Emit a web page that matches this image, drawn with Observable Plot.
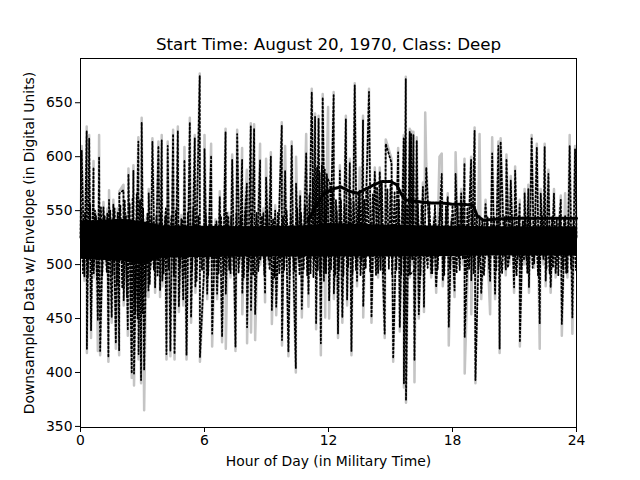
<!DOCTYPE html>
<html>
<head>
<meta charset="utf-8">
<script src="https://cdn.jsdelivr.net/npm/d3@7"></script>
<script src="https://cdn.jsdelivr.net/npm/@observablehq/plot@0.6"></script>
<style>
  body { margin: 0; background: #fff; }
  #chart svg { display: block; }
</style>
</head>
<body>
<div id="chart"></div>
<script>
// Hour of day for each sample of the downsampled trace
const hours = [
0.00,0.06,0.19,0.30,0.31,0.42,0.51,0.63,0.64,0.75,0.84,0.90,0.95,1.11,1.22,1.30,1.35,1.38,1.51,1.59,
1.71,1.80,1.87,1.88,2.08,2.09,2.20,2.29,2.32,2.48,2.56,2.59,2.80,2.81,2.87,2.93,2.96,3.08,3.20,3.29,
3.30,3.40,3.48,3.61,3.77,3.85,3.93,3.96,4.10,4.16,4.22,4.35,4.48,4.55,4.71,4.76,4.88,4.97,5.03,5.13,
5.29,5.35,5.53,5.56,5.77,5.78,5.97,6.00,6.13,6.32,6.37,6.53,6.61,6.74,6.85,7.02,7.03,7.15,7.26,7.34,
7.50,7.58,7.70,7.82,7.83,7.95,8.05,8.06,8.24,8.25,8.40,8.45,8.69,8.70,8.85,8.93,8.98,9.10,9.21,9.26,
9.42,9.47,9.74,9.75,9.90,10.06,10.22,10.30,10.42,10.43,10.55,10.63,10.71,10.92,11.03,11.19,11.30,11.35,11.40,11.52,
11.63,11.72,11.84,11.92,11.98,12.03,12.25,12.26,12.40,12.46,12.55,12.67,12.84,12.90,13.03,13.11,13.27,13.38,13.51,13.60,
13.67,13.68,13.96,14.08,14.24,14.40,14.48,14.72,14.77,15.05,15.13,15.37,15.45,15.64,15.65,15.74,15.75,15.93,15.94,16.00,
16.05,16.11,16.16,16.27,16.37,16.57,16.62,16.68,16.73,16.97,17.10,17.21,17.37,17.48,17.53,17.77,17.82,17.95,18.10,18.15,
18.30,18.42,18.50,18.58,18.59,18.90,18.91,19.07,19.11,19.31,19.39,19.60,19.82,19.92,20.06,20.22,20.28,20.33,20.45,20.58,
20.61,20.75,20.82,20.98,21.03,21.15,21.25,21.26,21.40,21.46,21.49,21.58,21.67,21.70,21.83,21.95,22.08,22.22,22.27,22.40,
22.46,22.51,22.64,22.75,22.91,22.99,23.24,23.29,23.45,23.56,23.67,23.80,23.93,24.00
];
// Envelope (black dotted) values, digital units
const envelope = [
525,606,489,624,422,617,439,590,492,545,448,600,420,553,505,548,414,560,451,556,
427,548,420,566,569,467,545,439,584,399,587,399,614,417,540,393,632,402,540,476,
566,500,614,479,610,476,615,485,545,417,610,420,621,417,624,461,542,467,597,416,
632,451,617,479,675,414,492,607,473,601,436,538,473,563,433,623,473,545,492,597,
424,621,505,597,473,545,575,442,628,458,626,454,597,504,548,473,581,505,600,458,
550,461,629,430,587,419,610,500,404,575,505,564,459,603,473,660,505,637,445,635,
427,655,492,584,560,467,657,473,550,436,587,451,635,467,594,420,666,485,569,505,
634,461,660,451,586,492,586,436,612,594,413,604,442,617,390,672,374,623,492,621,
505,620,411,615,454,572,461,545,590,492,540,479,545,584,485,563,442,540,476,584,
505,566,505,594,433,597,485,624,393,545,473,556,485,603,473,610,422,614,540,495,
598,505,578,479,587,505,556,428,540,504,566,505,570,479,617,501,609,445,566,505,
609,485,584,479,566,492,560,445,545,492,610,451,607,525
];
// Downsampled data (grey) values, digital units
const signal = [
525,610,485,628,418,620,432,596,488,548,420,620,416,558,500,552,410,569,446,560,
422,552,416,568,574,462,548,434,589,395,592,388,618,412,544,390,636,365,544,470,
570,496,617,474,614,470,620,480,548,412,614,415,625,412,628,456,546,462,609,412,
636,446,620,474,677,410,488,620,468,612,424,542,468,568,428,626,422,548,488,602,
420,625,500,608,454,548,588,427,631,437,630,430,612,500,552,465,598,500,604,445,
555,453,632,425,610,415,614,496,400,600,500,568,451,621,461,663,500,640,440,638,
416,658,451,588,646,450,660,468,554,432,592,446,638,462,598,416,668,480,590,500,
638,451,663,446,590,488,590,432,616,598,410,608,438,620,386,674,372,626,488,624,
500,623,391,618,450,576,456,641,594,488,544,474,600,603,480,566,425,544,470,604,
500,570,500,598,399,600,454,627,390,621,468,560,454,618,468,614,418,617,544,490,
602,500,582,474,591,500,560,424,544,500,570,500,574,474,620,497,612,422,570,500,
612,480,588,474,570,488,564,434,566,488,620,436,610,525
];
// Smaller oscillations of the envelope around the centre
const rippleHours = [
0.04,0.12,0.22,0.35,0.46,0.57,0.70,0.80,0.99,1.05,1.17,1.27,1.44,
1.55,1.65,1.76,1.93,2.02,2.14,2.25,2.38,2.44,2.52,2.65,2.72,2.76,2.88,3.00,3.03,3.13,3.24,3.35,3.44,
3.55,3.68,3.73,3.89,4.02,4.13,4.27,4.40,4.52,4.62,4.80,4.92,5.08,5.20,5.40,5.46,5.62,5.70,5.88,6.05,6.18,6.27,6.44,6.58,6.68,6.80,6.92,7.08,
7.20,7.30,7.42,7.55,7.65,7.76,7.90,8.00,8.12,8.30,8.35,8.52,8.60,8.78,8.90,9.03,9.15,9.32,9.38,9.55,9.62,9.80,9.85,9.97,10.12,10.18,10.35,10.48,10.60,10.67,10.80,10.87,10.97,
11.08,11.13,11.24,11.27,11.45,11.48,11.57,11.60,11.68,11.78,11.82,11.88,11.95,12.08,12.12,12.20,12.32,12.36,
12.50,12.60,12.72,12.78,12.95,13.07,13.16,13.22,13.33,13.45,13.55,13.73,13.80,13.90,14.02,14.15,14.30,14.35,14.52,14.58,14.68,14.85,14.92,15.00,15.08,15.20,15.28,15.40,15.52,15.58,15.70,15.80,15.88,
16.20,16.32,16.45,16.50,16.80,16.88,17.02,17.15,17.28,17.42,17.60,17.68,17.88,18.00,18.20,18.25,18.35,18.45,18.65,18.72,18.80,18.98,19.02,19.18,19.25,19.45,19.52,19.70,19.78,
20.00,20.12,20.18,20.40,20.52,20.68,20.90,21.10,21.20,21.33,21.52,21.62,21.76,21.88,22.02,22.14,22.33,22.55,22.58,22.70,22.82,22.86,23.05,23.12,23.20,23.35,23.40,23.50,23.62,23.74,23.86,23.97
];
const rippleValues = [
552,492,548,488,556,495,550,485,553,490,545,493,550,
490,552,482,555,478,560,470,556,460,562,455,565,450,560,455,552,470,548,482,545,
495,545,490,548,492,552,495,545,490,550,497,542,488,548,495,552,485,545,495,548,490,545,497,540,492,545,490,548,
495,545,490,548,492,545,488,550,495,546,490,548,494,545,490,550,495,542,488,548,492,545,495,550,490,546,494,552,490,548,495,555,490,
565,492,580,488,590,495,585,490,592,485,588,492,580,575,495,568,490,560,
495,560,490,555,498,562,492,558,495,565,490,560,497,570,493,565,490,572,495,575,492,570,496,575,490,568,495,560,490,558,495,556,490,
495,556,490,555,497,556,492,555,495,556,490,554,496,555,492,554,495,556,490,553,496,550,492,545,495,542,490,544,496,
545,495,543,492,544,497,542,490,545,496,543,492,544,497,542,490,545,496,543,492,544,497,542,490,545,496,543,492,544,497,542,495
];
// Dense central band of the envelope
const coreHours = [0,2,3,4,8,11,12,16,20,24];
const coreLow  = [505,503,500,506,507,507,507,507,508,508];
const coreHigh = [540,542,540,536,535,536,538,536,535,535];
// Slow upper envelope level
const trendHours  = [11.0,11.4,11.8,12.2,12.6,13.0,13.4,13.8,14.2,14.6,15.0,15.3,15.5,15.7,16.0,16.5,17.0,17.5,18.0,18.5,19.0,19.2,19.5,20.0,21.0,22.0,23.0,24.0];
const trendValues = [540,555,566,570,572,568,566,570,574,577,577,574,566,560,559,558,557,557,556,556,555,545,541,542,543,543,543,543];

const xTicks = [0, 6, 12, 18, 24];
const yTicks = [350, 400, 450, 500, 550, 600, 650];

const trace = hours.map((h, i) => ({h, env: envelope[i], sig: signal[i]}));
const ripple = rippleHours.map((h, i) => ({h, v: rippleValues[i]}));
const core = coreHours.map((h, i) => ({h, lo: coreLow[i], hi: coreHigh[i]}));
const trend = trendHours.map((h, i) => ({h, v: trendValues[i]}));

const chart = Plot.plot({
  width: 640,
  height: 480,
  marginLeft: 80,
  marginRight: 64,
  marginTop: 58,
  marginBottom: 53,
  style: {fontFamily: "DejaVu Sans", fontSize: "13.9px", color: "#000", background: "#fff"},
  x: {domain: [0, 24]},
  y: {domain: [349, 691]},
  marks: [
    Plot.line(trace, {x: "h", y: "sig", stroke: "#c4c4c4", strokeWidth: 2.5}),
    Plot.areaY(core, {x: "h", y1: "lo", y2: "hi", fill: "#000"}),
    Plot.line(ripple, {x: "h", y: "v", stroke: "#000", strokeWidth: 1.8, strokeDasharray: "1.5,2.5"}),
    Plot.line(trend, {x: "h", y: "v", stroke: "#000", strokeWidth: 3, strokeDasharray: "2,1"}),
    Plot.line(trace, {x: "h", y: "env", stroke: "#000", strokeWidth: 1.8, strokeDasharray: "1.5,2.5"}),
    Plot.frame({stroke: "#000", strokeWidth: 1}),
    Plot.axisX({ticks: xTicks, tickSize: 5, tickPadding: 3, label: null, tickFormat: d => String(d)}),
    Plot.axisY({ticks: yTicks, tickSize: 5, tickPadding: 3, label: null, tickFormat: d => String(d)}),
    Plot.text(["Start Time: August 20, 1970, Class: Deep"], {frameAnchor: "top", dy: -9, lineAnchor: "bottom", fontSize: 16.7, fill: "#000"}),
    Plot.text(["Hour of Day (in Military Time)"], {frameAnchor: "bottom", dy: 29, lineAnchor: "top", fill: "#000"}),
    Plot.text(["Downsampled Data w/ Envelope (in Digital Units)"], {frameAnchor: "left", dx: -51, rotate: -90, textAnchor: "middle", lineAnchor: "middle", fill: "#000"})
  ]
});
document.getElementById("chart").appendChild(chart);
</script>
</body>
</html>
